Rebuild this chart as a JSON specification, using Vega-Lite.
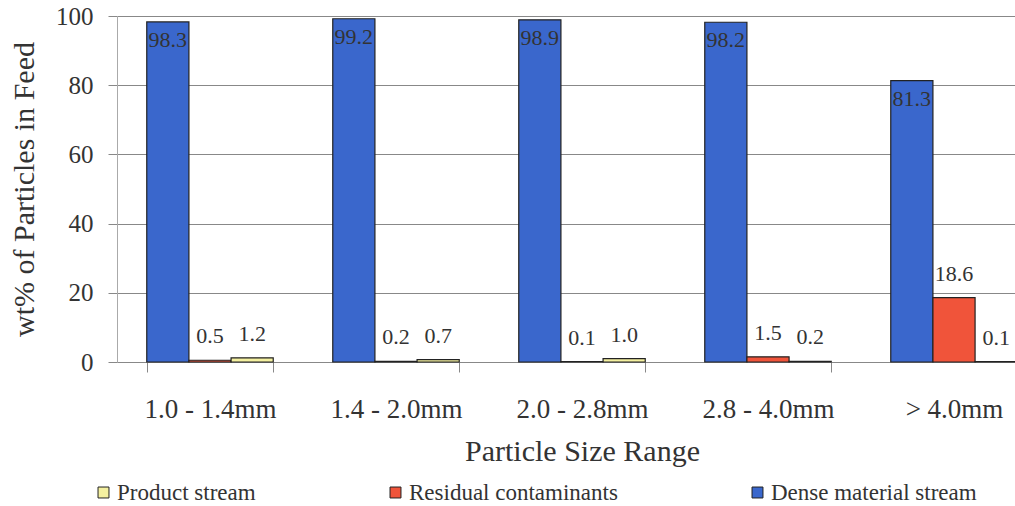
{
  "$schema": "https://vega.github.io/schema/vega-lite/v6.json",
  "autosize": "none",
  "width": 930,
  "height": 346,
  "padding": {"left": 117, "top": 16, "right": 0, "bottom": 144},
  "background": "white",
  "config": {
    "view": {"stroke": null},
    "font": "Liberation Serif, serif",
    "text": {"font": "Liberation Serif, serif"},
    "axis": {"labelFont": "Liberation Serif, serif", "titleFont": "Liberation Serif, serif", "labelColor": "#333", "titleColor": "#333", "titleFontWeight": "normal"},
    "legend": {"labelFont": "Liberation Serif, serif"}
  },
  "data": {
    "values": [
      {"size": "1.0 - 1.4mm", "series": "Dense material stream", "value": 98.3},
      {"size": "1.0 - 1.4mm", "series": "Residual contaminants", "value": 0.5},
      {"size": "1.0 - 1.4mm", "series": "Product stream", "value": 1.2},
      {"size": "1.4 - 2.0mm", "series": "Dense material stream", "value": 99.2},
      {"size": "1.4 - 2.0mm", "series": "Residual contaminants", "value": 0.2},
      {"size": "1.4 - 2.0mm", "series": "Product stream", "value": 0.7},
      {"size": "2.0 - 2.8mm", "series": "Dense material stream", "value": 98.9},
      {"size": "2.0 - 2.8mm", "series": "Residual contaminants", "value": 0.1},
      {"size": "2.0 - 2.8mm", "series": "Product stream", "value": 1.0},
      {"size": "2.8 - 4.0mm", "series": "Dense material stream", "value": 98.2},
      {"size": "2.8 - 4.0mm", "series": "Residual contaminants", "value": 1.5},
      {"size": "2.8 - 4.0mm", "series": "Product stream", "value": 0.2},
      {"size": "> 4.0mm", "series": "Dense material stream", "value": 81.3},
      {"size": "> 4.0mm", "series": "Residual contaminants", "value": 18.6},
      {"size": "> 4.0mm", "series": "Product stream", "value": 0.1}
    ]
  },
  "encoding": {
    "x": {
      "field": "size", "type": "nominal", "sort": null,
      "scale": {"paddingInner": 0.32, "paddingOuter": 0.16},
      "axis": {
        "title": "Particle Size Range", "labelAngle": 0, "labelFontSize": 27, "titleFontSize": 30,
        "labelFont": "Liberation Serif, serif", "titleFont": "Liberation Serif, serif",
        "domainColor": "#888", "tickColor": "#888", "tickSize": 10, "tickBand": "extent",
        "labelPadding": 24, "titlePadding": 14
      }
    },
    "xOffset": {"field": "series", "type": "nominal", "sort": ["Dense material stream", "Residual contaminants", "Product stream"], "scale": {"paddingInner": 0, "paddingOuter": 0}},
    "y": {
      "field": "value", "type": "quantitative",
      "scale": {"domain": [0, 100]},
      "axis": {
        "title": "wt% of Particles in Feed", "values": [0, 20, 40, 60, 80, 100], "labelFontSize": 25, "titleFontSize": 30,
        "labelFont": "Liberation Serif, serif", "titleFont": "Liberation Serif, serif",
        "domainColor": "#aaa", "tickColor": "#888", "tickSize": 9, "gridColor": "#888", "gridWidth": 1,
        "labelPadding": 15, "titlePadding": 16
      }
    }
  },
  "layer": [
    {
      "mark": {"type": "bar", "stroke": "#222", "strokeWidth": 1.2},
      "encoding": {
        "color": {
          "field": "series", "type": "nominal",
          "scale": {"domain": ["Product stream", "Residual contaminants", "Dense material stream"], "range": ["#f4f0a0", "#f0543a", "#3a67cc"]},
          "legend": {
            "title": null, "orient": "none", "direction": "horizontal", "columns": 3, "gridAlign": "none",
            "legendX": -25, "legendY": 465, "symbolType": "square", "symbolSize": 120, "symbolStrokeColor": "#222", "symbolStrokeWidth": 1,
            "labelFont": "Liberation Serif, serif", "labelFontSize": 23, "labelColor": "#333", "columnPadding": 128, "symbolOffset": 0, "labelOffset": 2, "labelLimit": 400
          }
        }
      }
    },
    {
      "transform": [{"filter": "datum.series === 'Dense material stream'"}],
      "mark": {"type": "text", "baseline": "top", "dy": 8, "fontSize": 22, "color": "#333", "font": "Liberation Serif, serif"},
      "encoding": {"text": {"field": "value", "type": "quantitative", "format": ".1f"}}
    },
    {
      "transform": [{"filter": "datum.series !== 'Dense material stream'"}],
      "mark": {"type": "text", "baseline": "bottom", "dy": -12, "fontSize": 22, "color": "#333", "font": "Liberation Serif, serif"},
      "encoding": {"text": {"field": "value", "type": "quantitative", "format": ".1f"}}
    }
  ]
}
